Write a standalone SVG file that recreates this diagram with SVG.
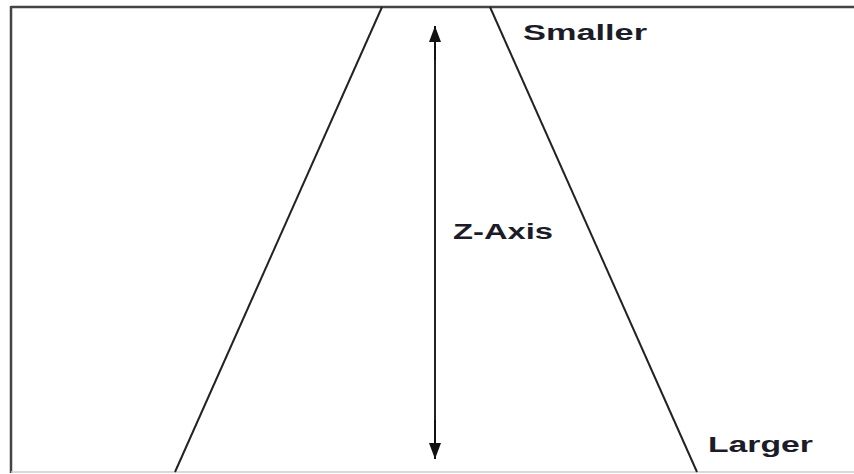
<svg xmlns="http://www.w3.org/2000/svg" width="854" height="474" viewBox="0 0 854 474">
<defs>
<style>
.ln{stroke:#222;stroke-width:2;fill:none}
.lbl{font-family:"Liberation Sans",Arial,sans-serif;font-weight:bold;font-size:22.5px;fill:#1c1c28}
</style>
<marker id="ah" viewBox="0 0 16 14" refX="16" refY="7" markerWidth="16" markerHeight="14" markerUnits="userSpaceOnUse" orient="auto">
<path d="M0,1 L16,7 L0,13 Z" fill="#111"/>
</marker>
</defs>
<rect width="854" height="474" fill="#fff"/>
<g id="frame">
<line x1="11" y1="7" x2="854" y2="7" stroke="#444" stroke-width="2.5"/>
<line x1="11" y1="6" x2="11" y2="473" stroke="#444" stroke-width="2.5"/>
<line x1="11" y1="472" x2="854" y2="472" stroke="#ccc" stroke-width="1.5"/>
</g>
<g id="connectors">
<line class="ln" x1="382" y1="7" x2="175" y2="472"/>
<line class="ln" x1="490" y1="7" x2="697" y2="472"/>
<line class="ln" x1="435" y1="40" x2="435" y2="444"/>
<line x1="435" y1="60" x2="435" y2="26" stroke="#111" stroke-width="2" marker-end="url(#ah)"/>
<line x1="435" y1="420" x2="435" y2="459" stroke="#111" stroke-width="2" marker-end="url(#ah)"/>
</g>
<g id="smaller"><text class="lbl" x="523" y="40" textLength="124" lengthAdjust="spacingAndGlyphs">Smaller</text></g>
<g id="zaxis"><text class="lbl" x="453" y="239" textLength="100" lengthAdjust="spacingAndGlyphs">Z-Axis</text></g>
<g id="larger"><text class="lbl" x="708" y="452" textLength="105" lengthAdjust="spacingAndGlyphs">Larger</text></g>
</svg>
